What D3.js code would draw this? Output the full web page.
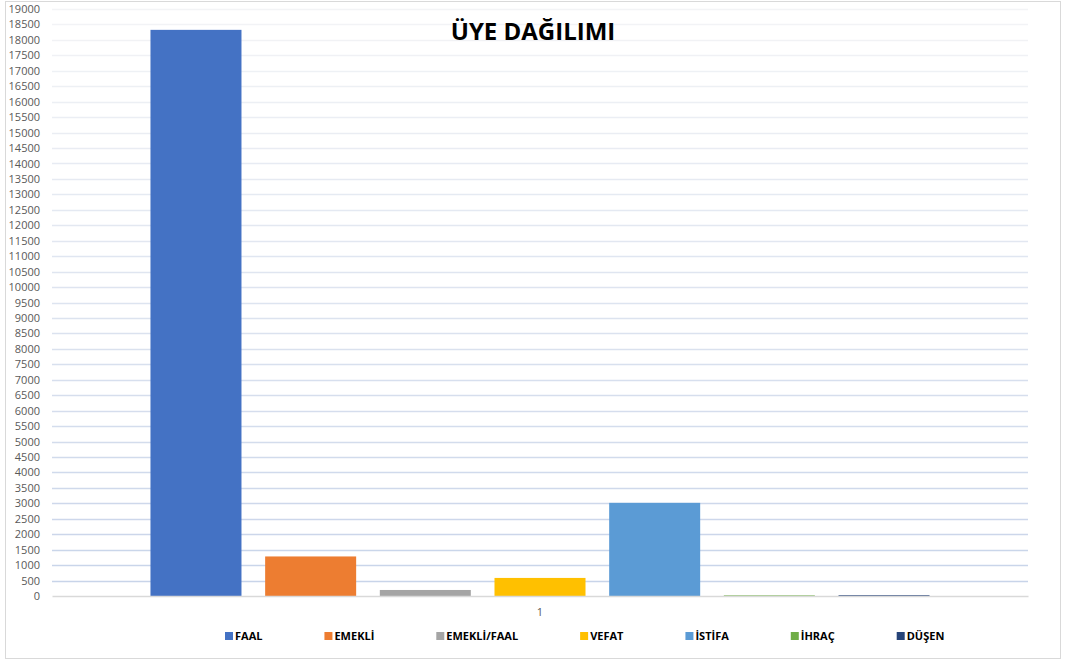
<!DOCTYPE html>
<html>
<head>
<meta charset="utf-8">
<script src="https://cdn.jsdelivr.net/npm/d3@7"></script>
<style>
  body { margin: 0; background: #fff; }
  svg { display: block; font-family: "Open Sans", "Liberation Sans", sans-serif; }
</style>
</head>
<body>
<div id="chart"></div>
<script>
(function () {
  // Data
  const groups = ["1"];
  const series = ["FAAL", "EMEKLİ", "EMEKLİ/FAAL", "VEFAT", "İSTİFA", "İHRAÇ", "DÜŞEN"];
  const values = [18325, 1280, 195, 585, 3015, 20, 25];
  const yTicks = d3.range(0, 19001, 500);

  // Dimensions
  const width = 1065;
  const height = 662;
  const margin = { top: 9, right: 37, bottom: 66, left: 52 };

  // Style
  const colors = ["#4472c4", "#ed7d31", "#a5a5a5", "#ffc000", "#5b9bd5", "#70ad47", "#264478"];
  const gridColor = d3.interpolateRgb("#c7d3e9", "#f3f4f6");

  const svg = d3
    .select("#chart")
    .append("svg")
    .attr("width", width)
    .attr("height", height);

  // Frame
  svg
    .append("rect")
    .attr("x", 5.5)
    .attr("y", 1.5)
    .attr("width", 1055)
    .attr("height", 657)
    .attr("fill", "#fff")
    .attr("stroke", "#d9d9d9");

  // Scales
  const y = d3
    .scaleLinear()
    .domain([0, 19000])
    .range([height - margin.bottom, margin.top]);
  const x0 = d3
    .scaleBand()
    .domain(groups)
    .range([margin.left, width - margin.right])
    .paddingInner(0)
    .paddingOuter(0.1264);
  const x1 = d3
    .scaleBand()
    .domain(series)
    .range([0, x0.bandwidth()])
    .paddingInner(0.2064)
    .paddingOuter(0);

  // Gridlines
  svg
    .append("g")
    .selectAll("line")
    .data(yTicks.filter((d) => d > 0))
    .join("line")
    .attr("x1", margin.left)
    .attr("x2", width - margin.right)
    .attr("y1", (d) => Math.round(y(d)) + 0.5)
    .attr("y2", (d) => Math.round(y(d)) + 0.5)
    .attr("stroke", (d) => gridColor(d / 19000))
    .attr("stroke-width", 1.3);

  // Y axis labels
  const yAxis = svg
    .append("g")
    .attr("transform", `translate(${margin.left - 12},0)`)
    .call(
      d3.axisLeft(y).tickValues(yTicks).tickFormat(d3.format("d")).tickSize(0).tickPadding(0)
    );
  yAxis.select(".domain").remove();
  yAxis
    .selectAll("text")
    .attr("fill", "#595959")
    .attr("font-size", 11)
    .attr("font-family", "'Open Sans', sans-serif");

  // Bars
  svg
    .append("g")
    .selectAll("g")
    .data(groups)
    .join("g")
    .attr("transform", (g) => `translate(${x0(g)},0)`)
    .selectAll("rect")
    .data(series.map((s, i) => ({ key: s, value: values[i], color: colors[i] })))
    .join("rect")
    .attr("x", (d) => x1(d.key))
    .attr("y", (d) => y(d.value))
    .attr("width", x1.bandwidth())
    .attr("height", (d) => Math.max(1.2, y(0) - y(d.value)))
    .attr("fill", (d) => d.color);

  // X axis
  const xAxis = svg
    .append("g")
    .attr("transform", `translate(0,${y(0)})`)
    .call(d3.axisBottom(x0).tickSize(0).tickPadding(12));
  xAxis.select(".domain").attr("stroke", "#d9d9d9").attr("stroke-width", 1.5);
  xAxis
    .selectAll("text")
    .attr("fill", "#595959")
    .attr("font-size", 11)
    .attr("font-family", "'Open Sans', sans-serif");

  // Title
  svg
    .append("text")
    .attr("x", 533)
    .attr("y", 40)
    .attr("text-anchor", "middle")
    .attr("font-size", 24)
    .attr("font-weight", "bold")
    .attr("fill", "#000")
    .attr("font-family", "'Open Sans', sans-serif")
    .text("ÜYE DAĞILIMI");

  // Legend
  const legend = svg.append("g").attr("transform", "translate(0,636)");
  let lx = 225;
  series.forEach((s, i) => {
    const item = legend.append("g").attr("transform", `translate(${lx},0)`);
    item
      .append("rect")
      .attr("x", 0)
      .attr("y", -4)
      .attr("width", 8)
      .attr("height", 8)
      .attr("fill", colors[i]);
    const t = item
      .append("text")
      .attr("x", 10)
      .attr("y", 4)
      .attr("font-size", 11)
      .attr("font-weight", "bold")
      .attr("fill", "#000")
      .attr("font-family", "'Open Sans', sans-serif")
      .text(s);
    lx += 10 + t.node().getComputedTextLength() + 62;
  });
})();
</script>
</body>
</html>
